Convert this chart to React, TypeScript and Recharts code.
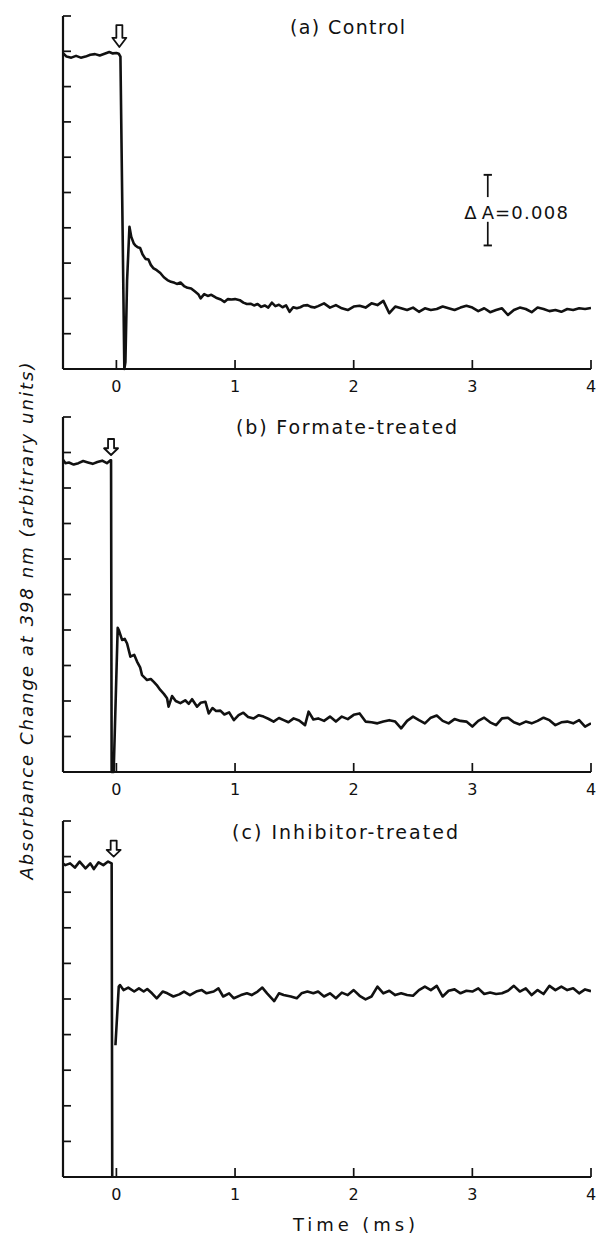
import React from 'react';
import { LineChart, Line, XAxis, YAxis, ReferenceDot, ReferenceLine } from 'recharts';

// late part of every trace shares one time grid (ms)
const tailTimes = [
  1.75, 1.8, 1.85, 1.9, 1.95, 2.0, 2.05, 2.1, 2.15, 2.2, 2.25, 2.3, 2.35, 2.4, 2.45, 2.5,
  2.55, 2.6, 2.65, 2.7, 2.75, 2.8, 2.85, 2.9, 2.95, 3.0, 3.05, 3.1, 3.15, 3.2, 3.25, 3.3,
  3.35, 3.4, 3.45, 3.5, 3.55, 3.6, 3.65, 3.7, 3.75, 3.8, 3.85, 3.9, 3.95, 4.0,
];

// (a) Control
const earlyTimesA = [
  -0.45, -0.42, -0.38, -0.34, -0.3, -0.26, -0.22, -0.18, -0.14, -0.1,
  -0.06, -0.03, 0, 0.02, 0.034, 0.067, 0.076, 0.09, 0.11, 0.125,
  0.146, 0.16, 0.18, 0.2, 0.22, 0.245, 0.27, 0.29, 0.31, 0.34,
  0.37, 0.4, 0.43, 0.46, 0.49, 0.51, 0.54, 0.57, 0.6, 0.63,
  0.66, 0.69, 0.71, 0.74, 0.77, 0.8, 0.84, 0.88, 0.91, 0.94,
  0.97, 1.0, 1.04, 1.07, 1.1, 1.13, 1.16, 1.19, 1.22, 1.25,
  1.28, 1.31, 1.34, 1.37, 1.4, 1.43, 1.46, 1.49, 1.52, 1.55,
  1.58, 1.61, 1.64, 1.67, 1.7,
];
const earlyA = [
  8.95, 8.85, 8.82, 8.87, 8.82, 8.85, 8.9, 8.92, 8.88, 8.93,
  8.98, 8.94, 8.95, 8.93, 8.85, 0, 0.2, 2.5, 4.03, 3.75,
  3.56, 3.5, 3.45, 3.43, 3.25, 3.12, 3.1, 2.95, 2.86, 2.8,
  2.72, 2.6, 2.52, 2.47, 2.44, 2.41, 2.45, 2.35, 2.3, 2.28,
  2.2, 2.12, 2.0, 2.12, 2.07, 2.1, 2.02, 1.97, 1.9, 1.98,
  1.97, 1.98, 1.95, 1.88, 1.84, 1.85, 1.8, 1.84, 1.76, 1.8,
  1.74, 1.88, 1.78, 1.82, 1.75, 1.8, 1.62, 1.75, 1.72, 1.75,
  1.8, 1.81, 1.76, 1.74, 1.78,
];
const tailA = [
  1.86, 1.74, 1.81, 1.72, 1.67, 1.77, 1.79, 1.74, 1.86, 1.81,
  1.93, 1.58, 1.77, 1.72, 1.67, 1.74, 1.62, 1.72, 1.67, 1.7,
  1.77, 1.72, 1.67, 1.74, 1.79, 1.74, 1.64, 1.72, 1.61, 1.67,
  1.72, 1.53, 1.67, 1.74, 1.7, 1.61, 1.74, 1.7, 1.64, 1.67,
  1.62, 1.7, 1.67, 1.72, 1.7, 1.73,
];

// (b) Formate-treated
const earlyTimesB = [
  -0.45, -0.43, -0.4, -0.36, -0.32, -0.28, -0.24, -0.2, -0.16, -0.12,
  -0.08, -0.05, -0.045, -0.04, -0.023, 0.011, 0.02, 0.048, 0.07, 0.09,
  0.118, 0.15, 0.174, 0.2, 0.216, 0.24, 0.258, 0.29, 0.315, 0.34,
  0.37, 0.4, 0.427, 0.44, 0.469, 0.5, 0.539, 0.58, 0.61, 0.638,
  0.68, 0.71, 0.75, 0.778, 0.81, 0.84, 0.876, 0.91, 0.95, 0.99,
  1.03, 1.07, 1.11, 1.157, 1.2, 1.24, 1.28, 1.325, 1.37, 1.41,
  1.45, 1.494, 1.54, 1.59, 1.62, 1.66, 1.7,
];
const earlyB = [
  8.8, 8.7, 8.72, 8.66, 8.7, 8.76, 8.72, 8.68, 8.73, 8.77,
  8.7, 8.78, 8.78, 0, 0, 4.06, 4.0, 3.72, 3.75, 3.62,
  3.25, 3.3, 3.11, 2.95, 2.73, 2.65, 2.59, 2.62, 2.54, 2.45,
  2.31, 2.2, 2.08, 1.84, 2.14, 2.0, 1.94, 2.02, 1.92, 2.05,
  1.84, 1.95, 1.98, 1.65, 1.8, 1.72, 1.73, 1.62, 1.68, 1.46,
  1.6, 1.67, 1.55, 1.51, 1.6, 1.56, 1.5, 1.42, 1.52, 1.46,
  1.4, 1.51, 1.45, 1.32, 1.7, 1.48, 1.51,
];
const tailB = [
  1.44, 1.56, 1.42, 1.56, 1.49, 1.61, 1.65, 1.42, 1.4, 1.37,
  1.42, 1.46, 1.42, 1.23, 1.44, 1.56, 1.46, 1.37, 1.53, 1.59,
  1.44, 1.37, 1.49, 1.44, 1.42, 1.28, 1.44, 1.53, 1.4, 1.32,
  1.51, 1.53, 1.4, 1.34, 1.42, 1.37, 1.44, 1.53, 1.46, 1.32,
  1.4, 1.42, 1.37, 1.46, 1.28, 1.37,
];

// (c) Inhibitor-treated (null breaks the trace after the flash)
const earlyTimesC = [
  -0.45, -0.43, -0.39, -0.35, -0.31, -0.26, -0.22, -0.19, -0.15, -0.11,
  -0.07, -0.04, -0.035, -0.02, -0.008, 0.02, 0.03, 0.06, 0.1, 0.15,
  0.19, 0.23, 0.26, 0.3, 0.34, 0.39, 0.43, 0.48, 0.53, 0.57,
  0.62, 0.68, 0.72, 0.76, 0.82, 0.86, 0.9, 0.95, 0.99, 1.05,
  1.1, 1.14, 1.19, 1.23, 1.27, 1.33, 1.37, 1.41, 1.47, 1.52,
  1.56, 1.61, 1.66, 1.7,
];
const earlyC = [
  8.8, 8.76, 8.81, 8.69, 8.86, 8.67, 8.81, 8.65, 8.84, 8.76,
  8.86, 8.81, 0, null, 3.7, 5.35, 5.39, 5.25, 5.32, 5.21,
  5.3, 5.21, 5.28, 5.16, 5.02, 5.21, 5.16, 5.07, 5.13, 5.21,
  5.11, 5.22, 5.25, 5.16, 5.21, 5.3, 5.07, 5.16, 5.02, 5.11,
  5.16, 5.11, 5.21, 5.32, 5.16, 4.94, 5.16, 5.11, 5.07, 5.02,
  5.16, 5.21, 5.16, 5.21,
];
const tailC = [
  5.07, 5.16, 5.02, 5.18, 5.11, 5.25, 5.09, 4.99, 5.07, 5.35,
  5.16, 5.23, 5.11, 5.16, 5.11, 5.09, 5.25, 5.35, 5.25, 5.37,
  5.07, 5.23, 5.27, 5.16, 5.23, 5.21, 5.3, 5.14, 5.18, 5.14,
  5.16, 5.23, 5.37, 5.21, 5.3, 5.11, 5.25, 5.14, 5.37, 5.25,
  5.35, 5.25, 5.3, 5.16, 5.27, 5.22,
];

const xTicks = [0, 1, 2, 3, 4];
const yTicks = [0, 1, 2, 3, 4, 5, 6, 7, 8, 9, 10];
const panelTitles = ['(a) Control', '(b) Formate-treated', '(c) Inhibitor-treated'];
// flash marker: time of the flash and where the arrow tip points
const flashTimes = [0.025, -0.045, -0.023];
const arrowTips = [9.12, 8.93, 9.0];

// calibration bar in panel (a): ΔA = 0.008 spans two ticks
const scaleBarTime = 3.13;
const scaleBarEnds = [3.5, 5.5];
const scaleBarGap = [4.17, 4.87];
const scaleBarValue = '=0.008';

type Row = { t: number; v: number | null };
const toRows = (times: number[], vals: (number | null)[]): Row[] =>
  times.map((t, i) => ({ t, v: vals[i] }));

const dataA = [...toRows(earlyTimesA, earlyA), ...toRows(tailTimes, tailA)];
const dataB = [...toRows(earlyTimesB, earlyB), ...toRows(tailTimes, tailB)];
const dataC = [...toRows(earlyTimesC, earlyC), ...toRows(tailTimes, tailC)];

const INK = '#111';
const FONT = '"DejaVu Sans", sans-serif';
const axisStyle = { stroke: INK, strokeWidth: 2.2 };

function XTick({ x, y, payload }: any) {
  return (
    <g>
      <line x1={x} y1={y} x2={x} y2={y - 9} stroke={INK} strokeWidth={1.7} />
      <text x={x} y={y + 17} textAnchor="middle" dominantBaseline="central" fontSize={16} fill={INK} fontFamily={FONT}>
        {payload.value}
      </text>
    </g>
  );
}

function YTick({ x, y }: any) {
  return <line x1={x} y1={y} x2={x + 8} y2={y} stroke={INK} strokeWidth={1.7} />;
}

function Arrow({ cx, cy, h }: any) {
  const head = h * 0.42;
  const pts = [
    [cx - 3, cy - h], [cx + 3, cy - h], [cx + 3, cy - head], [cx + 7, cy - head],
    [cx, cy], [cx - 7, cy - head], [cx - 3, cy - head],
  ].map((p) => p.join(',')).join(' ');
  return <polygon points={pts} fill="#fff" stroke={INK} strokeWidth={1.8} strokeLinejoin="round" />;
}

interface PanelProps {
  data: Row[];
  top: number;
  height: number;
  bottom: number;
  idx: number;
  arrowH: number;
  children?: React.ReactNode;
}

function Panel({ data, top, height, bottom, idx, arrowH, children }: PanelProps) {
  return (
    <div style={{ position: 'absolute', left: 0, top, width: 599, height }}>
      <LineChart width={599} height={height} data={data} margin={{ top: 16, right: 8, left: 62, bottom }}>
        <XAxis
          dataKey="t"
          type="number"
          domain={[-0.45, 4]}
          ticks={xTicks}
          interval={0}
          allowDataOverflow
          height={1}
          tickSize={0}
          tickMargin={0}
          tickLine={false}
          axisLine={axisStyle}
          tick={(p: any) => <XTick {...p} />}
        />
        <YAxis
          type="number"
          domain={[0, 10]}
          ticks={yTicks}
          interval={0}
          width={1}
          tickSize={0}
          tickMargin={0}
          tickLine={false}
          axisLine={axisStyle}
          tick={(p: any) => <YTick {...p} />}
        />
        <Line
          dataKey="v"
          type="linear"
          stroke={INK}
          strokeWidth={2.6}
          dot={false}
          strokeLinejoin="round"
          isAnimationActive={false}
        />
        <ReferenceDot
          x={flashTimes[idx]}
          y={arrowTips[idx]}
          ifOverflow="visible"
          shape={(p: any) => <Arrow cx={p.cx} cy={p.cy} h={arrowH} />}
        />
        {children}
      </LineChart>
    </div>
  );
}

export default function App() {
  const capW = 0.035;
  return (
    <div style={{ position: 'absolute', left: 0, top: 0, width: 599, height: 1237, background: '#fff' }}>
      <Panel data={dataA} top={0} height={400} bottom={30} idx={0} arrowH={22}>
        <ReferenceLine
          segment={[{ x: scaleBarTime, y: scaleBarEnds[1] }, { x: scaleBarTime, y: scaleBarGap[1] }]}
          stroke={INK}
          strokeWidth={1.7}
        />
        <ReferenceLine
          segment={[{ x: scaleBarTime, y: scaleBarGap[0] }, { x: scaleBarTime, y: scaleBarEnds[0] }]}
          stroke={INK}
          strokeWidth={1.7}
        />
        <ReferenceLine
          segment={[{ x: scaleBarTime - capW, y: scaleBarEnds[1] }, { x: scaleBarTime + capW, y: scaleBarEnds[1] }]}
          stroke={INK}
          strokeWidth={1.9}
        />
        <ReferenceLine
          segment={[{ x: scaleBarTime - capW, y: scaleBarEnds[0] }, { x: scaleBarTime + capW, y: scaleBarEnds[0] }]}
          stroke={INK}
          strokeWidth={1.9}
        />
      </Panel>
      <Panel data={dataB} top={401} height={400} bottom={28} idx={1} arrowH={16} />
      <Panel data={dataC} top={805} height={432} bottom={59} idx={2} arrowH={16} />

      <svg
        width={599}
        height={1237}
        style={{ position: 'absolute', left: 0, top: 0, pointerEvents: 'none' }}
        fontFamily={FONT}
        fill={INK}
      >
        <text x={290} y={27} fontSize={19} textLength={115} lengthAdjust="spacing" dominantBaseline="central">
          {panelTitles[0]}
        </text>
        <text x={236} y={427} fontSize={19} textLength={221} lengthAdjust="spacing" dominantBaseline="central">
          {panelTitles[1]}
        </text>
        <text x={232} y={832} fontSize={19} textLength={226} lengthAdjust="spacing" dominantBaseline="central">
          {panelTitles[2]}
        </text>

        <text x={470.5} y={212} fontSize={18} textAnchor="middle" dominantBaseline="central">Δ</text>
        <text x={488} y={212} fontSize={18} textAnchor="middle" dominantBaseline="central">A</text>
        <text x={495} y={212} fontSize={18} textLength={73} lengthAdjust="spacing" dominantBaseline="central">
          {scaleBarValue}
        </text>

        <text
          transform="translate(26,621) rotate(-90)"
          fontSize={18}
          fontStyle="italic"
          textAnchor="middle"
          dominantBaseline="central"
          textLength={517}
          lengthAdjust="spacing"
        >
          Absorbance Change at 398 nm (arbitrary units)
        </text>
        <text x={293} y={1224} fontSize={18} textLength={122} lengthAdjust="spacing" dominantBaseline="central">
          Time (ms)
        </text>
      </svg>
    </div>
  );
}
